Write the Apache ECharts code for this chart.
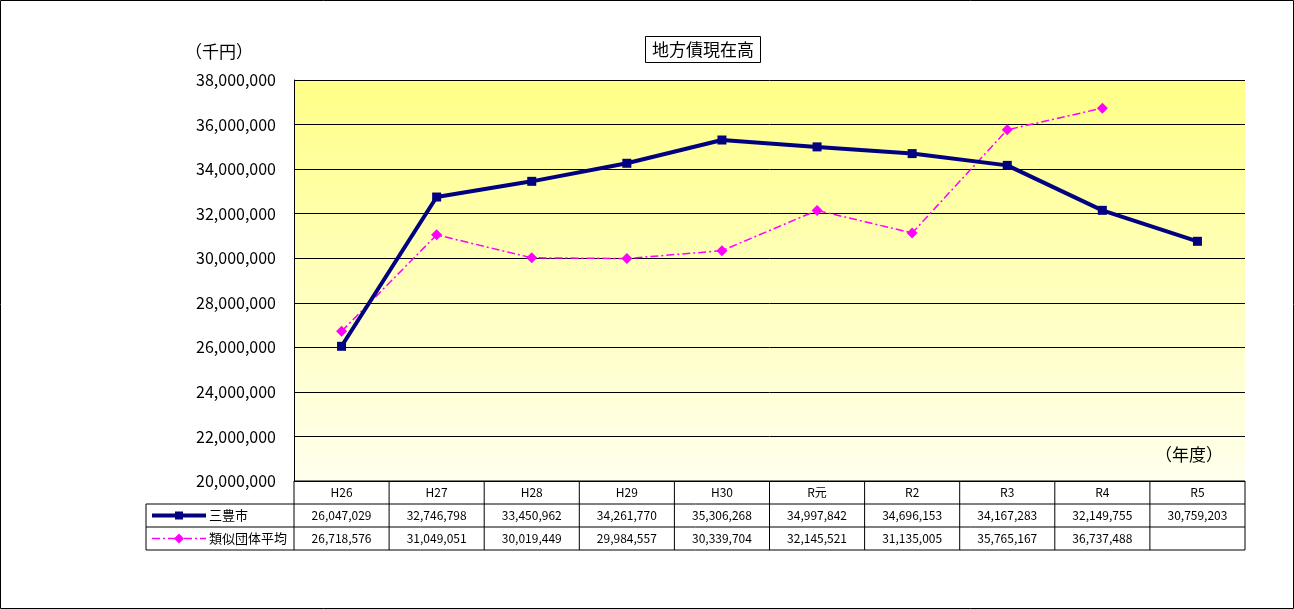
<!DOCTYPE html>
<html><head><meta charset="utf-8">
<script src="https://cdn.jsdelivr.net/npm/echarts@6/dist/echarts.min.js"></script>
<style>html,body{margin:0;padding:0;background:#fff}#c{width:1294px;height:609px}</style>
</head><body><div id="c"></div>
<script>
var categories = ['H26','H27','H28','H29','H30','R元','R2','R3','R4','R5'];
var mitoyo = [26047029,32746798,33450962,34261770,35306268,34997842,34696153,34167283,32149755,30759203];
var ruiji = [26718576,31049051,30019449,29984557,30339704,32145521,31135005,35765167,36737488,null];
var seriesNames = ['三豊市','類似団体平均'];
var chart = echarts.init(document.getElementById('c'));
var L=294,R=1245,T=80,B=481,rowH=23,colW=(R-L)/categories.length,tblL=146;
var font='"Noto Sans CJK JP", sans-serif';
function fmt(v){return v==null?'':v.toLocaleString('en-US');}
var g=[{type:'rect',shape:{x:0.5,y:0.5,width:1293,height:608},style:{fill:'none',stroke:'#000',lineWidth:1}}];
// table lines
var line=function(x1,y1,x2,y2){g.push({type:'line',shape:{x1:x1,y1:y1,x2:x2,y2:y2},style:{stroke:'#000',lineWidth:1}});};
line(L,B,R,B);line(tblL,B+rowH,R,B+rowH);line(tblL,B+2*rowH,R,B+2*rowH);line(tblL,B+3*rowH,R,B+3*rowH);
line(tblL,B+rowH,tblL,B+3*rowH);
for(var i=0;i<=categories.length;i++){line(L+i*colW,B,L+i*colW,B+3*rowH);}
categories.forEach(function(c,i){
 g.push({type:'text',style:{text:c,x:L+(i+0.5)*colW,y:B+rowH/2,align:'center',verticalAlign:'middle',font:'12px '+font,fill:'#000'}});
 [mitoyo,ruiji].forEach(function(arr,r){
  g.push({type:'text',style:{text:fmt(arr[i]),x:L+(i+0.5)*colW,y:B+rowH*(r+1.5),align:'center',verticalAlign:'middle',font:'12px '+font,fill:'#000'}});
 });
});
// legend keys
g.push({type:'line',shape:{x1:152,y1:B+rowH*1.5,x2:206,y2:B+rowH*1.5},style:{stroke:'#000080',lineWidth:4}});
g.push({type:'rect',shape:{x:175,y:B+rowH*1.5-4,width:8,height:8},style:{fill:'#000080'}});
g.push({type:'line',shape:{x1:152,y1:B+rowH*2.5,x2:206,y2:B+rowH*2.5},style:{stroke:'#ff00ff',lineWidth:1.5,lineDash:[8,3,2,3]}});
g.push({type:'polygon',shape:{points:[[179,B+rowH*2.5-5],[184,B+rowH*2.5],[179,B+rowH*2.5+5],[174,B+rowH*2.5]]},style:{fill:'#ff00ff'}});
seriesNames.forEach(function(n,r){g.push({type:'text',style:{text:n,x:209,y:B+rowH*(r+1.5),verticalAlign:'middle',font:'13px '+font,fill:'#000'}});});
g.push({type:'text',style:{text:'（千円）',x:185,y:52,verticalAlign:'middle',font:'17px '+font,fill:'#000'}});
g.push({type:'text',style:{text:'（年度）',x:1155,y:455,verticalAlign:'middle',font:'17px '+font,fill:'#000'}});
chart.setOption({
 animation:false,
 title:{text:'地方債現在高',left:645,top:36,borderColor:'#000',borderWidth:1,padding:[5,7],textStyle:{fontSize:17,fontWeight:'normal',color:'#000',fontFamily:font}},
 grid:{left:L,right:1294-R,top:T,bottom:609-B,show:true,borderColor:'#888',borderWidth:0,
  backgroundColor:{type:'linear',x:0,y:0,x2:0,y2:1,colorStops:[{offset:0,color:'#ffff88'},{offset:1,color:'#ffffee'}]}},
 xAxis:{type:'category',data:categories,boundaryGap:true,axisLabel:{show:false},axisTick:{show:false},axisLine:{show:false}},
 yAxis:{type:'value',min:20000000,max:38000000,interval:2000000,
  axisLine:{show:true,lineStyle:{color:'#000'}},axisTick:{show:false},
  splitLine:{lineStyle:{color:'#000',width:1}},
  axisLabel:{formatter:function(v){return v.toLocaleString('en-US');},fontSize:16,color:'#000',fontFamily:font,margin:18}},
 series:[
  {name:seriesNames[0],type:'line',data:mitoyo,symbol:'rect',symbolSize:9,lineStyle:{color:'#000080',width:4},itemStyle:{color:'#000080'},z:3},
  {name:seriesNames[1],type:'line',data:ruiji,symbol:'diamond',symbolSize:11,lineStyle:{color:'#ff00ff',width:1.5,type:[8,3,2,3]},itemStyle:{color:'#ff00ff'},z:2}
 ],
 graphic:g
});
</script></body></html>
